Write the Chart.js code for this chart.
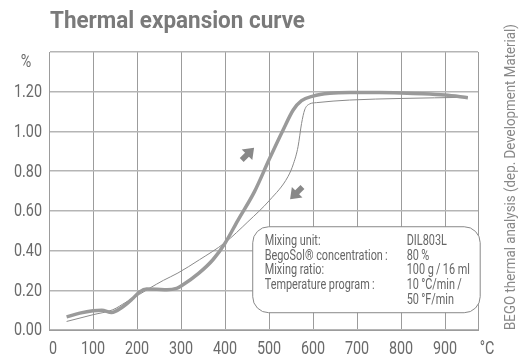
<!DOCTYPE html>
<html>
<head>
<meta charset="utf-8">
<script src="https://cdn.jsdelivr.net/npm/chart.js@4"></script>
<style>
  html, body { margin: 0; padding: 0; background: #fff; }
  #wrap { width: 525px; height: 358px; position: relative; }
</style>
</head>
<body>
<div id="wrap"><canvas id="expChart" width="525" height="358"></canvas></div>
<script>
// heating curve (thick line), temperature in °C, expansion in %
const heatTemp = [40, 70, 100, 120, 142, 168, 191, 206, 222, 245, 268, 290, 302, 340, 373, 400, 430, 467, 500, 532, 555, 574, 600, 638, 683, 750, 800, 850, 900, 952];
const heatExp  = [0.066, 0.085, 0.097, 0.099, 0.088, 0.117, 0.16, 0.192, 0.206, 0.205, 0.203, 0.21, 0.224, 0.285, 0.355, 0.437, 0.555, 0.697, 0.857, 1.007, 1.108, 1.155, 1.178, 1.192, 1.196, 1.196, 1.194, 1.19, 1.183, 1.17];

// cooling curve (thin line)
const coolTemp = [40, 100, 145, 175, 206, 229, 260, 293, 342, 400, 452, 502, 543, 556, 566, 574, 581, 592, 608, 683, 800, 952];
const coolExp  = [0.043, 0.077, 0.102, 0.14, 0.18, 0.211, 0.25, 0.287, 0.354, 0.44, 0.545, 0.655, 0.772, 0.84, 0.923, 1.04, 1.108, 1.138, 1.145, 1.158, 1.166, 1.172];

const xMin = 0, xMax = 975, xStep = 100;
const yMin = 0, yMax = 1.4, yStep = 0.2;
const xTickLabels = ['0', '100', '200', '300', '400', '500', '600', '700', '800', '900'];
const yTickLabels = ['0.00', '0.20', '0.40', '0.60', '0.80', '1.00', '1.20'];

const titleText = 'Thermal expansion curve';
const sideText = 'BEGO thermal analysis (dep. Development Material)';
const infoLabels = ['Mixing unit:', 'BegoSol\u00AE concentration\u2009:', 'Mixing ratio:', 'Temperature program\u2009:', ''];
const infoValues = ['DIL803L', '80\u2009%', '100 g\u2009/\u200916 ml', '10\u2009°C/min\u2009/', '50\u2009°F/min'];

const FONT = "Roboto, 'Liberation Sans', sans-serif";
const NARROW = 0.82; // squeeze to look like the condensed face of the original

function pts(xs, ys) {
    return xs.map((x, i) => ({ x: x, y: ys[i] }));
}

// draw text squeezed horizontally
function narrowText(ctx, text, x, y, align, sx) {
    ctx.save();
    ctx.translate(x, y);
    ctx.scale(sx, 1);
    ctx.textAlign = align;
    ctx.fillText(text, 0, 0);
    ctx.restore();
}

// scale factor so a text fills a given width
function fitScale(ctx, text, width) {
    return width / ctx.measureText(text).width;
}

function drawArrow(ctx, cx, cy, ang) {
    ctx.save();
    ctx.translate(cx, cy);
    ctx.rotate(ang);
    ctx.scale(1.25, 1.25);
    ctx.fillStyle = '#888';
    ctx.beginPath();
    ctx.moveTo(7, 0);
    ctx.lineTo(-1, -6);
    ctx.lineTo(-1, -2.2);
    ctx.lineTo(-7, -2.2);
    ctx.lineTo(-7, 2.2);
    ctx.lineTo(-1, 2.2);
    ctx.lineTo(-1, 6);
    ctx.closePath();
    ctx.fill();
    ctx.restore();
}

// extra drawing: tick labels, title, unit labels, side note, arrows, info box
const decorations = {
    id: 'decorations',
    afterDatasetsDraw(chart) {
        const ctx = chart.ctx;
        const xs = chart.scales.x, ys = chart.scales.y;
        const area = chart.chartArea;
        ctx.save();
        ctx.textBaseline = 'middle';

        // title
        ctx.fillStyle = '#7a7a7a';
        ctx.font = "bold 24px " + FONT;
        narrowText(ctx, titleText, 50, 22, 'left', fitScale(ctx, titleText, 255));

        // tick labels
        ctx.fillStyle = '#6a6a6a';
        ctx.font = "17.5px " + FONT;
        xTickLabels.forEach((t, i) => {
            narrowText(ctx, t, xs.getPixelForValue(i * xStep) + (i === 0 ? 4 : 0), 350, 'center', NARROW);
        });
        yTickLabels.forEach((t, i) => {
            narrowText(ctx, t, area.left - 7, ys.getPixelForValue(i * yStep) + 1, 'right', NARROW);
        });

        // unit labels
        narrowText(ctx, '%', 26, 63, 'center', NARROW);
        narrowText(ctx, '°C', xs.getPixelForValue(1000) - 2, 350, 'center', NARROW);

        // side note
        ctx.save();
        ctx.translate(511, area.bottom);
        ctx.rotate(-Math.PI / 2);
        ctx.fillStyle = '#888';
        ctx.font = "15px " + FONT;
        narrowText(ctx, sideText, 0, 0, 'left', fitScale(ctx, sideText, 306));
        ctx.restore();

        // arrows
        drawArrow(ctx, xs.getPixelForValue(452), ys.getPixelForValue(0.887), -Math.PI / 4);
        drawArrow(ctx, xs.getPixelForValue(562), ys.getPixelForValue(0.689), 3 * Math.PI / 4);

        // info box
        const bx = xs.getPixelForValue(463), by = ys.getPixelForValue(0.52);
        const bw = xs.getPixelForValue(980) - bx, bh = ys.getPixelForValue(0.087) - by;
        ctx.beginPath();
        ctx.roundRect(bx, by, bw, bh, 16);
        ctx.fillStyle = '#fff';
        ctx.fill();
        ctx.strokeStyle = '#888';
        ctx.lineWidth = 1;
        ctx.stroke();

        ctx.fillStyle = '#666';
        ctx.font = "15px " + FONT;
        const sx = fitScale(ctx, infoLabels[1], 123);
        for (let i = 0; i < infoLabels.length; i++) {
            const ty = by + 14.5 + i * 14.7;
            narrowText(ctx, infoLabels[i], bx + 12, ty, 'left', sx);
            narrowText(ctx, infoValues[i], bx + 154, ty, 'left', sx);
        }
        ctx.restore();
    }
};

const ctx = document.getElementById('expChart').getContext('2d');
new Chart(ctx, {
    type: 'scatter',
    data: {
        datasets: [{
            label: 'heating',
            data: pts(heatTemp, heatExp),
            showLine: true,
            borderColor: '#9a9a9a',
            borderWidth: 3.5,
            pointRadius: 0,
            cubicInterpolationMode: 'monotone'
        }, {
            label: 'cooling',
            data: pts(coolTemp, coolExp),
            showLine: true,
            borderColor: '#8a8a8a',
            borderWidth: 1,
            pointRadius: 0,
            cubicInterpolationMode: 'monotone'
        }]
    },
    options: {
        responsive: false,
        animation: false,
        layout: { padding: { top: 52, right: 47, left: 0, bottom: 0 } },
        plugins: { legend: { display: false }, tooltip: { enabled: false } },
        scales: {
            x: {
                type: 'linear',
                min: xMin,
                max: xMax,
                afterFit: (s) => { s.height = 28; },
                grid: { color: '#9c9c9c', lineWidth: 1, drawTicks: false },
                border: { color: '#9c9c9c' },
                ticks: { stepSize: xStep, display: false }
            },
            y: {
                min: yMin,
                max: yMax,
                afterFit: (s) => { s.width = 49; },
                grid: { color: '#b5b5b5', lineWidth: 1.5, drawTicks: false },
                border: { color: '#9c9c9c' },
                ticks: { stepSize: yStep, display: false }
            }
        }
    },
    plugins: [decorations]
});
</script>
</body>
</html>
